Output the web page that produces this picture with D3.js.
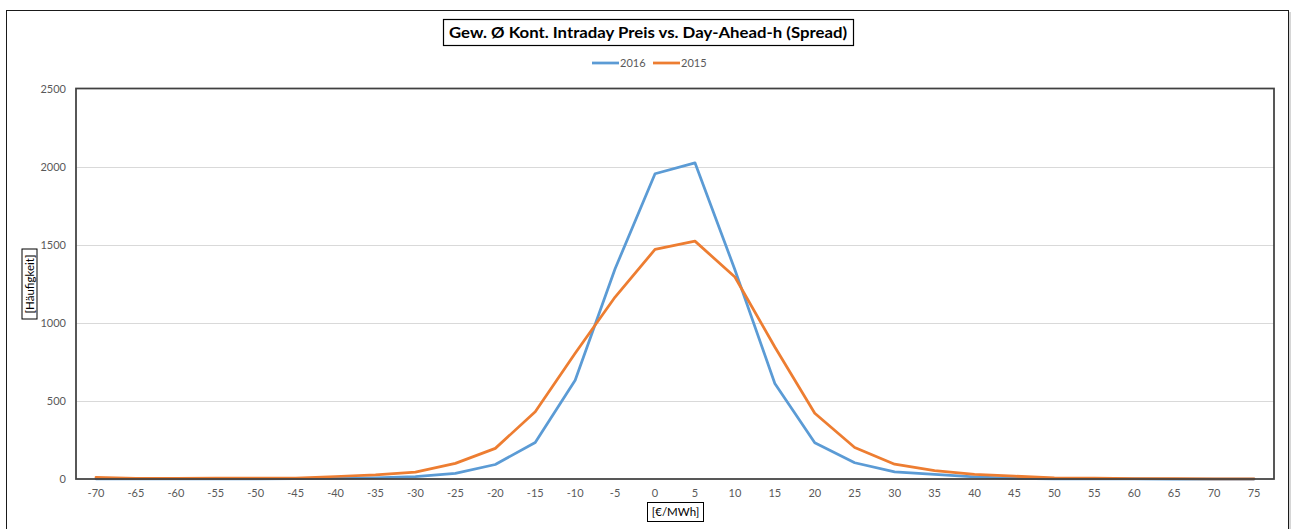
<!DOCTYPE html>
<html>
<head>
<meta charset="utf-8">
<script src="https://cdn.jsdelivr.net/npm/d3@7"></script>
<style>
  html, body { margin: 0; padding: 0; background: #fff; }
  svg { display: block; font-family: Lato, "Open Sans", sans-serif; }
</style>
</head>
<body>
<svg id="chart" width="1295" height="529"></svg>
<script>
const categories = [-70,-65,-60,-55,-50,-45,-40,-35,-30,-25,-20,-15,-10,-5,0,5,10,15,20,25,30,35,40,45,50,55,60,65,70,75];
const values2016 = [1,1,1,1,1,2,5,8,15,36,93,234,632,1346,1954,2024,1340,611,232,104,46,29,14,4,1,1,1,0,0,0];
const values2015 = [10,4,4,5,5,6,16,27,44,100,196,430,805,1165,1470,1523,1293,845,421,202,95,53,29,18,8,5,3,2,1,1];
const yTicks = [0,500,1000,1500,2000,2500];
const seriesNames = ["2016","2015"];
const seriesColors = ["#5B9BD5","#ED7D31"];

const svg = d3.select("#chart");
const plot = {left: 76, top: 88.5, right: 1274, bottom: 479};

// outer chart border
svg.append("rect").attr("x", 6.5).attr("y", 10.5).attr("width", 1282).attr("height", 530)
  .attr("fill", "none").attr("stroke", "#1a1a1a").attr("stroke-width", 1);
svg.append("line").attr("x1", 1290).attr("x2", 1290).attr("y1", 12).attr("y2", 529)
  .attr("stroke", "#c8c8c8").attr("stroke-width", 1.5);

const x = d3.scaleBand().domain(categories).range([plot.left, plot.right]).padding(0);
const y = d3.scaleLinear().domain([0, 2500]).range([plot.bottom, plot.top]);

// gridlines
svg.append("g").selectAll("line").data(yTicks.filter(d => d > 0 && d < 2500)).join("line")
  .attr("x1", plot.left).attr("x2", plot.right)
  .attr("y1", d => Math.round(y(d)) + 0.5).attr("y2", d => Math.round(y(d)) + 0.5)
  .attr("stroke", "#d9d9d9").attr("stroke-width", 1);

// y axis labels
const yAxis = d3.axisLeft(y).tickValues(yTicks).tickFormat(d3.format("d")).tickSize(0).tickPadding(10);
const gy = svg.append("g").attr("transform", `translate(${plot.left},0)`).call(yAxis);
gy.select(".domain").remove();
gy.selectAll("text").attr("fill", "#595959").style("font-size", "11px").style("font-family", "Lato, sans-serif");

// x axis labels
const xAxis = d3.axisBottom(x).tickSize(0).tickPadding(10);
const gx = svg.append("g").attr("transform", `translate(0,${plot.bottom})`).call(xAxis);
gx.select(".domain").remove();
gx.selectAll("text").attr("fill", "#595959").style("font-size", "11px").style("font-family", "Lato, sans-serif");

// lines
const line = d3.line().x((d, i) => x(categories[i]) + x.bandwidth() / 2).y(d => y(d));
const allSeries = [values2016, values2015];
allSeries.forEach((vals, k) => {
  svg.append("path").datum(vals).attr("d", line)
    .attr("fill", "none").attr("stroke", seriesColors[k]).attr("stroke-width", 2.75)
    .attr("stroke-linejoin", "round").attr("stroke-linecap", "round");
});

// plot border
svg.append("rect").attr("x", plot.left).attr("y", plot.top)
  .attr("width", plot.right - plot.left).attr("height", plot.bottom - plot.top)
  .attr("fill", "none").attr("stroke", "#404040").attr("stroke-width", 1.75);

// title
const title = svg.append("text").attr("x", 648).attr("y", 38).attr("text-anchor", "middle")
  .style("font-size", "15.5px").style("font-weight", "bold").attr("fill", "#000")
  .text("Gew. Ø Kont. Intraday Preis vs. Day-Ahead-h (Spread)");
svg.append("rect").attr("x", 443.5).attr("y", 19.5).attr("width", 410).attr("height", 26)
  .attr("fill", "none").attr("stroke", "#000").attr("stroke-width", 1.2);
title.attr("textLength", 398).attr("lengthAdjust", "spacingAndGlyphs");

// legend
const legendItems = [{x: 592, name: seriesNames[0], color: seriesColors[0]}, {x: 653, name: seriesNames[1], color: seriesColors[1]}];
legendItems.forEach(it => {
  svg.append("line").attr("x1", it.x).attr("x2", it.x + 27).attr("y1", 63).attr("y2", 63)
    .attr("stroke", it.color).attr("stroke-width", 2.75);
  svg.append("text").attr("x", it.x + 28).attr("y", 67).attr("fill", "#595959")
    .style("font-size", "11px").text(it.name);
});

// y axis title (boxed, rotated)
const yt = svg.append("g").attr("transform", "translate(30,284) rotate(-90)");
yt.append("rect").attr("x", -35).attr("y", -8).attr("width", 70).attr("height", 15)
  .attr("fill", "#fff").attr("stroke", "#000").attr("stroke-width", 1);
yt.append("text").attr("x", 0).attr("y", 4).attr("text-anchor", "middle")
  .style("font-size", "11.5px").attr("fill", "#000").text("[Häufigkeit]");

// x axis title (boxed)
svg.append("rect").attr("x", 647.5).attr("y", 502.5).attr("width", 56).attr("height", 19)
  .attr("fill", "#fff").attr("stroke", "#000").attr("stroke-width", 1);
svg.append("text").attr("x", 675.5).attr("y", 516).attr("text-anchor", "middle")
  .style("font-size", "11.5px").attr("fill", "#000").text("[€/MWh]");
</script>
</body>
</html>
